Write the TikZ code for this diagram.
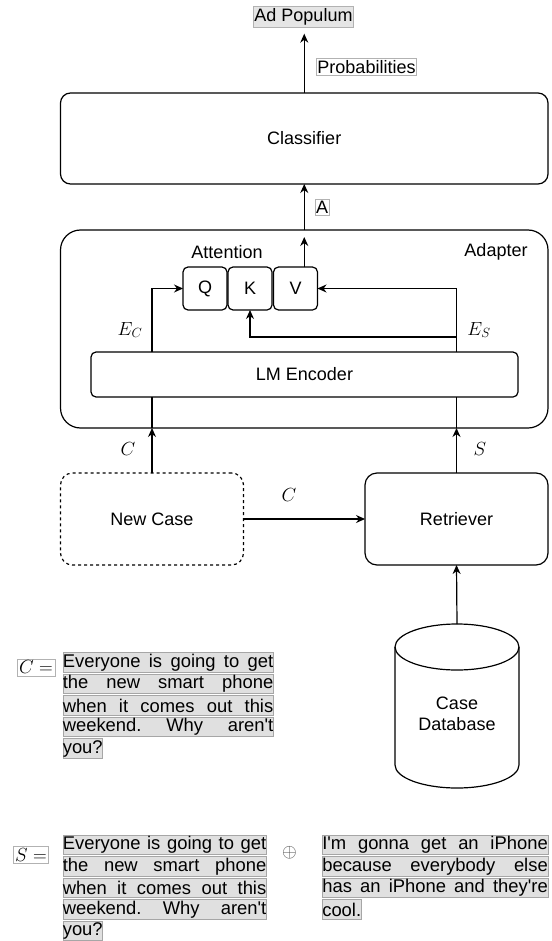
\RequirePackage{fix-cm}
\documentclass[tikz,border=0pt]{standalone}
\usepackage{fontspec}
\setmainfont{Liberation Sans}
\usetikzlibrary{arrows.meta}

\newcommand\lblfont{\fontsize{18}{21}\selectfont}
\newcommand\blkfont{\fontsize{18.4}{22}\selectfont}
\newcommand\mthfont{\fontsize{19}{22}\selectfont}

\tikzset{
  box/.style={draw, rounded corners=#1, line width=1.2pt, inner sep=0pt, outer sep=0pt, align=center, font=\lblfont},
  box/.default=10pt,
  tag/.style={draw=black!30, fill=white, line width=0.6pt, inner xsep=1pt, inner ysep=2pt, font=\lblfont},
  hl/.style={draw=black!35, fill=black!12, line width=0.6pt, inner sep=0pt, minimum height=19.5pt, anchor=west, font=\blkfont},
  jline/.style={hl, text width=#1, align=justify},
  arr/.style={-{Stealth[length=9pt,width=8pt]}, line width=1.2pt},
  mlab/.style={font=\mthfont, inner sep=0pt}
}
\newcommand\fillline[1]{\frenchspacing\hyphenpenalty=10000\parfillskip=0pt\relax #1\par}

\begin{document}
\begin{tikzpicture}[x=1pt,y=-1pt]
\useasboundingbox (0,0) rectangle (551,941);
% top part
\node[tag, fill=black!10] (apop) at (303.5,17) {Ad Populum};
\node[box, minimum width=487.5pt, minimum height=91pt] (clf) at (304.25,138.5) {Classifier};
\node[tag] (prob) at (366.5,67) {Probabilities};
\draw[arr, shorten >=6pt] (clf.north) -- (clf.north |- apop.south);
% adapter
\node[box=20pt, minimum width=487.5pt, minimum height=198pt] (adapter) at (304.25,329) {};
\node[font=\lblfont] (adlab) at (496,252) {Adapter};
\node[font=\lblfont] (attn) at (227,252) {Attention};
\node[box=5pt, minimum width=44pt, minimum height=43pt] (q) at (205,288.5) {Q};
\node[box=5pt, minimum width=44pt, minimum height=43pt] (k) at (250,288.5) {K};
\node[box=5pt, minimum width=44pt, minimum height=43pt] (v) at (295.5,288.5) {V};
\node[box=5pt, minimum width=427pt, minimum height=45pt] (lmenc) at (304.5,374.5) {LM Encoder};
\draw[arr] (adapter.north) -- (clf.south);
\node[tag] (alab) at (322,207) {A};
\draw[arr, shorten >=7pt] (adapter.north |- v.north) -- (adapter.north);
% lower boxes
\node[box=12pt, dashed, minimum width=183pt, minimum height=92pt] (newcase) at (152,519) {New Case};
\node[box=12pt, minimum width=183pt, minimum height=92pt] (retr) at (456.5,519) {Retriever};
% database cylinder
\draw[line width=1.2pt] (457,647) ellipse [x radius=62pt, y radius=23pt];
\draw[line width=1.2pt] (395,647) -- (395,765) arc[start angle=180, end angle=360, x radius=62pt, y radius=23pt] -- (519,647);
\node[font=\lblfont, align=center] (db) at (457,714) {Case\\Database};
\coordinate (dbtop) at (457,624);
\coordinate (ec) at (newcase.north |- lmenc.north);
\coordinate (es) at (retr.north |- lmenc.north);
\draw[arr] (ec) |- (q.west);
\draw[arr] (es) |- (v.east);
\draw[arr] ([yshift=15pt]es) -| (k.south);
\draw[arr] (newcase.north) -- (newcase.north |- adapter.south);
\draw[line width=1.2pt] (newcase.north |- adapter.south) -- (newcase.north |- lmenc.south);
\draw[arr] (retr.north) -- (retr.north |- adapter.south);
\draw[line width=1.2pt] (retr.north |- adapter.south) -- (retr.north |- lmenc.south);
\draw[arr] (newcase.east) -- (retr.west);
\draw[arr] (dbtop) -- (retr.south);
\node[mlab] (eclab) at (130,330) {$E_C$};
\node[mlab] (eslab) at (479,330) {$E_S$};
\node[mlab] (clab) at (128,449) {$C$};
\node[mlab] (slab) at (480,449) {$S$};
\node[mlab] (cmid) at (289,495) {$C$};
% texts
\node[tag, font=\mthfont, inner xsep=2pt] (ceq) at (36,667.5) {$C=$};
\foreach \t [count=\i] in {{Everyone is going to get},{the new smart phone},{when it comes out this},{weekend. Why aren\textquotesingle t}}
  \node[jline=210.5pt] (cl\i) at (62.5,{662.5+21.5*(\i-1)}) {\fillline{\t}};
\node[hl] (cl5) at (62.5,748.5) {you?};
\node[tag, font=\mthfont, inner xsep=2pt] (seq) at (31,855) {$S=$};
\foreach \t [count=\i] in {{Everyone is going to get},{the new smart phone},{when it comes out this},{weekend. Why aren\textquotesingle t}}
  \node[jline=203.5pt] (sa\i) at (62.5,{845+21.5*(\i-1)}) {\fillline{\t}};
\node[hl] (sa5) at (62.5,931) {you?};
\node[mlab, text=black!70] (plus) at (289.5,852.5) {$\oplus$};
\foreach \t [count=\i] in {{I\textquotesingle m gonna get an iPhone},{because everybody else},{has an iPhone and they\textquotesingle re}}
  \node[jline=225.5pt] (sb\i) at (322,{845+21.5*(\i-1)}) {\fillline{\t}};
\node[hl] (sb4) at (322,909.5) {cool.};
\end{tikzpicture}
\end{document}
